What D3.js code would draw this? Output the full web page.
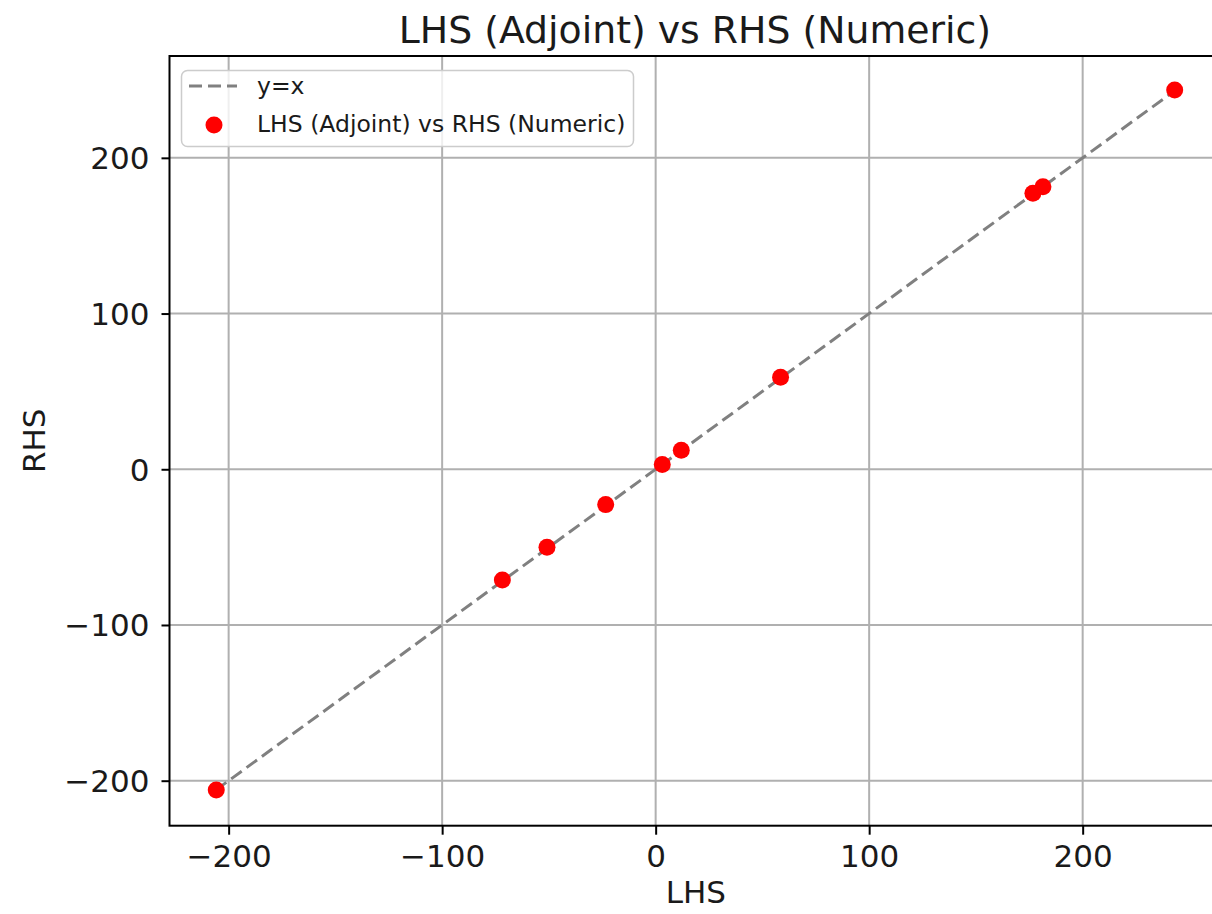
<!DOCTYPE html>
<html>
<head>
<meta charset="utf-8">
<script src="https://cdn.jsdelivr.net/npm/d3@7"></script>
<style>
  html, body { margin: 0; padding: 0; background: #fff; }
  svg { display: block; font-family: "DejaVu Sans", sans-serif; }
</style>
</head>
<body>
<svg id="chart" width="1212" height="914"></svg>
<script>
// LHS (adjoint) and RHS (numeric) values for each test case
const lhsValues = [-205.8, -71.8, -50.9, -23.4, 3.1, 12.0, 58.5, 176.7, 181.4, 243.1];
const rhsValues = [-206.0, -71.1, -50.1, -22.7, 3.0, 12.2, 59.1, 177.3, 181.5, 243.6];
const tickValues = [-200, -100, 0, 100, 200];
const tickLabels = ["\u2212200", "\u2212100", "0", "100", "200"];
const titleText = "LHS (Adjoint) vs RHS (Numeric)";
const xLabel = "LHS";
const yLabel = "RHS";
const legendLabels = ["y=x", "LHS (Adjoint) vs RHS (Numeric)"];

(function () {
  const points = lhsValues.map((v, i) => ({ lhs: v, rhs: rhsValues[i] }));

  const svg = d3.select("#chart");

  // plot box
  const plotL = 169.5, plotR = 1222.3, plotT = 56, plotB = 825.7;

  const x = d3.scaleLinear().domain([-227.7, 265.4]).range([plotL, plotR]);
  const y = d3.scaleLinear().domain([-228.9, 265.4]).range([plotB, plotT]);

  // grid
  const grid = svg.append("g");
  grid.selectAll("line.gx").data(tickValues).join("line")
    .attr("class", "gx")
    .attr("x1", d => x(d)).attr("x2", d => x(d))
    .attr("y1", plotT).attr("y2", plotB)
    .attr("stroke", "#b0b0b0").attr("stroke-width", 2);
  grid.selectAll("line.gy").data(tickValues).join("line")
    .attr("class", "gy")
    .attr("y1", d => y(d)).attr("y2", d => y(d))
    .attr("x1", plotL).attr("x2", plotR)
    .attr("stroke", "#b0b0b0").attr("stroke-width", 2);

  // axes
  const fmt = d => tickLabels[tickValues.indexOf(d)];
  const xAxis = svg.append("g")
    .attr("transform", `translate(0,${plotB})`)
    .call(d3.axisBottom(x).tickValues(tickValues).tickFormat(fmt).tickSize(9).tickPadding(10));
  const yAxis = svg.append("g")
    .attr("transform", `translate(${plotL},0)`)
    .call(d3.axisLeft(y).tickValues(tickValues).tickFormat(fmt).tickSize(8).tickPadding(12));

  [xAxis, yAxis].forEach(g => {
    g.select(".domain").remove();
    g.selectAll(".tick line").attr("stroke", "#000").attr("stroke-width", 2);
    g.selectAll(".tick text")
      .attr("fill", "#1a1a1a")
      .style("font-size", "31px")
      .style("font-family", "DejaVu Sans, sans-serif");
  });
  xAxis.selectAll(".tick text").attr("dy", "0.71em");
  yAxis.selectAll(".tick text").attr("dy", "0.35em");

  // y = x reference line
  const lo = d3.min([...lhsValues, ...rhsValues]);
  const hi = d3.max([...lhsValues, ...rhsValues]);
  svg.append("line")
    .attr("x1", x(lo)).attr("y1", y(lo))
    .attr("x2", x(hi)).attr("y2", y(hi))
    .attr("stroke", "#808080").attr("stroke-width", 3)
    .attr("stroke-dasharray", "13,6");

  // scatter points
  svg.append("g").selectAll("circle").data(points).join("circle")
    .attr("cx", d => x(d.lhs)).attr("cy", d => y(d.rhs))
    .attr("r", 8.5).attr("fill", "#ff0000");

  // frame
  svg.append("rect")
    .attr("x", plotL).attr("y", plotT)
    .attr("width", plotR - plotL).attr("height", plotB - plotT)
    .attr("fill", "none").attr("stroke", "#000").attr("stroke-width", 2);

  // title and axis labels
  svg.append("text")
    .attr("x", (plotL + plotR) / 2 - 1).attr("y", 43)
    .attr("text-anchor", "middle")
    .style("font-size", "37.8px").attr("fill", "#1a1a1a")
    .text(titleText);
  svg.append("text")
    .attr("x", (plotL + plotR) / 2).attr("y", 903)
    .attr("text-anchor", "middle")
    .style("font-size", "31px").attr("fill", "#1a1a1a")
    .text(xLabel);
  svg.append("text")
    .attr("transform", `translate(45,${(plotT + plotB) / 2}) rotate(-90)`)
    .attr("text-anchor", "middle")
    .style("font-size", "31px").attr("fill", "#1a1a1a")
    .text(yLabel);

  // legend
  const lg = svg.append("g");
  lg.append("rect")
    .attr("x", 181.5).attr("y", 70.5).attr("width", 452).attr("height", 76)
    .attr("rx", 6).attr("fill", "#fff").attr("fill-opacity", 0.8)
    .attr("stroke", "#cccccc").attr("stroke-width", 1.5);
  lg.append("line")
    .attr("x1", 189).attr("x2", 237).attr("y1", 86).attr("y2", 86)
    .attr("stroke", "#808080").attr("stroke-width", 3)
    .attr("stroke-dasharray", "13,6");
  lg.append("circle")
    .attr("cx", 214).attr("cy", 125).attr("r", 8.5).attr("fill", "#ff0000");
  lg.selectAll("text").data(legendLabels).join("text")
    .attr("x", 257).attr("y", (d, i) => 86 + i * 38)
    .attr("dy", "0.36em")
    .style("font-size", "23.5px").attr("fill", "#1a1a1a")
    .text(d => d);
})();
</script>
</body>
</html>
